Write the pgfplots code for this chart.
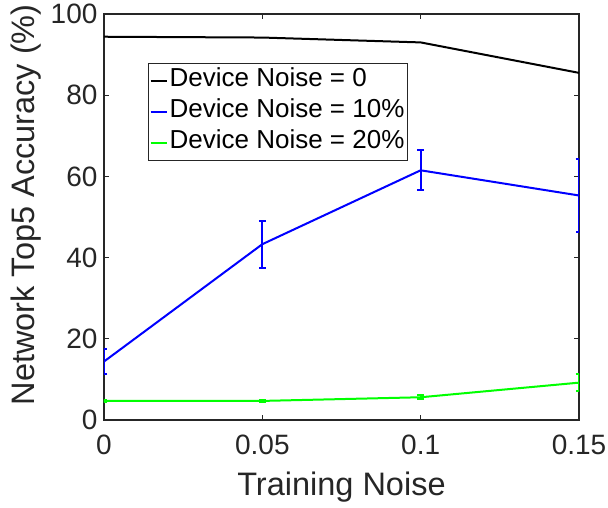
\documentclass[border=0pt]{standalone}
\usepackage{fontspec}
\setmainfont{Liberation Sans}
\usepackage{pgfplots}
\pgfplotsset{compat=1.18}

\definecolor{axgray}{gray}{0.15}

\begin{document}
\begin{tikzpicture}
% fixed frame around the axis box (axis box lower-left at the origin)
\useasboundingbox (-104pt,-88pt) rectangle (504pt,420pt);
\begin{axis}[
  scale only axis,
  width=475pt, height=406pt,
  xmin=0, xmax=0.15, ymin=0, ymax=100,
  xtick={0,0.05,0.1,0.15},
  xticklabels={0,0.05,0.1,0.15},
  ytick={0,20,40,60,80,100},
  tick align=inside,
  major tick length=5pt,
  axis line style={axgray, line width=1.3pt},
  every tick/.style={axgray, line width=1.3pt},
  /pgf/number format/assume math mode=true,
  tick label style={font=\fontsize{28}{32}\selectfont, text=axgray},
  xticklabel style={yshift=-11pt},
  yticklabel style={xshift=-3pt},
  xlabel={Training Noise},
  ylabel={Network Top5 Accuracy (\%)},
  label style={font=\fontsize{32.5}{38}\selectfont, text=axgray},
  xlabel style={at={(axis description cs:0.5,-0.165)}, anchor=center},
  ylabel style={at={(axis description cs:-0.163,0.53)}, anchor=center, rotate=0},
  legend style={
    at={(axis description cs:0.0926,0.880)}, anchor=north west,
    draw=axgray, line width=1.3pt,
    font=\fontsize{26}{32}\selectfont,
    inner xsep=1pt, inner ysep=2pt,
    nodes={text height=19pt, text depth=8pt, inner sep=2pt, text=black},
    cells={anchor=west},
    row sep=0pt,
  },
  legend image code/.code={\draw[#1, line width=2pt] (0pt,0pt) -- (16pt,0pt);},
  legend cell align=left,
  clip=true,
]

% Device noise = 0
\addplot[black, line width=2pt] coordinates {
  (0,94.4) (0.05,94.2) (0.1,93.0) (0.15,85.5)
};
\addlegendentry{Device Noise = 0}

% Device noise = 10%
\addplot[blue, line width=2pt,
  error bars/.cd, y dir=both, y explicit,
  error bar style={line width=2pt, blue},
  error mark options={rotate=90, mark size=3.5pt, line width=2pt, blue}]
  coordinates {
  (0,14.4) +- (0,3.0)
  (0.05,43.3) +- (0,5.8)
  (0.1,61.5) +- (0,4.9)
  (0.15,55.3) +- (0,8.9)
};
\addlegendentry{Device Noise = 10\%}

% Device noise = 20%
\addplot[green, line width=2pt,
  error bars/.cd, y dir=both, y explicit,
  error bar style={line width=2pt, green},
  error mark options={rotate=90, mark size=3.5pt, line width=2pt, green}]
  coordinates {
  (0,4.7) +- (0,0.3)
  (0.05,4.7) +- (0,0.3)
  (0.1,5.6) +- (0,0.5)
  (0.15,9.2) +- (0,2.1)
};
\addlegendentry{Device Noise = 20\%}

\end{axis}
\end{tikzpicture}
\end{document}
